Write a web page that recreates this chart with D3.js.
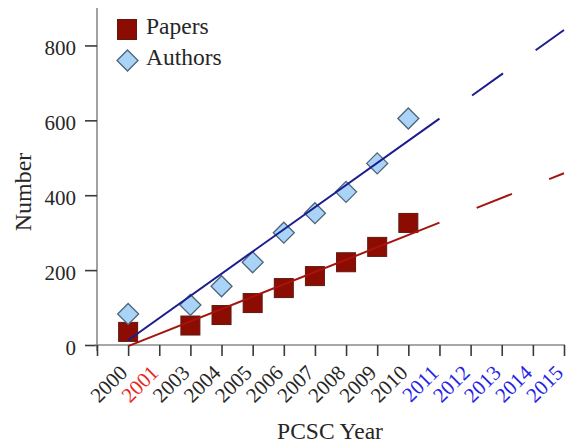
<!DOCTYPE html>
<html>
<head>
<meta charset="utf-8">
<script src="https://cdn.jsdelivr.net/npm/d3@7"></script>
<style>
  html, body { margin: 0; padding: 0; background: #fff; }
  svg { display: block; }
  text { font-family: "Liberation Serif", "Times New Roman", serif; }
</style>
</head>
<body>
<svg id="chart" width="569" height="444"></svg>
<script>
// Conference years on the x axis (no meeting in 2002)
const years = ["2000", "2001", "2003", "2004", "2005", "2006", "2007", "2008",
               "2009", "2010", "2011", "2012", "2013", "2014", "2015"];
const noMeetingYears = ["2001"];
const forecastYears = ["2011", "2012", "2013", "2014", "2015"];

// Observed counts
const observedYears = ["2000", "2003", "2004", "2005", "2006", "2007", "2008", "2009", "2010"];
const papers  = [35, 52, 80, 112, 152, 184, 221, 262, 326];
const authors = [83, 107, 157, 221, 300, 352, 409, 485, 605];

// Trend line: fitted through the observed years, solid up to 2011, dashed beyond
const trendStart = "2000";
const trendSolidEnd = "2011";
const trendEnd = "2015";

const yTicks = [0, 200, 400, 600, 800];

const svg = d3.select("#chart");

// First slot is the bare origin tick, then one slot per year
const x = d3.scalePoint().domain([""].concat(years)).range([97, 564]).padding(0);
const y = d3.scaleLinear().domain([0, 900]).range([345, 8]);
const slot = d => x.domain().indexOf(d);
const xi = d3.scaleLinear().domain([0, x.domain().length - 1]).range(x.range());

const labelColor = d => noMeetingYears.includes(d) ? "#e8281e"
                      : forecastYears.includes(d) ? "#2424e6" : "#262626";

// Axes
const yAxis = svg.append("g")
  .attr("transform", "translate(97,0)")
  .call(d3.axisLeft(y).tickValues(yTicks).tickSize(12).tickSizeOuter(0).tickPadding(9));
yAxis.select(".domain").attr("stroke", "#8a8a8a").attr("stroke-width", 1.6)
  .attr("d", `M0,${y(0) + 6}V${y.range()[1]}`);
yAxis.selectAll(".tick line").attr("stroke", "#3a3a3a").attr("stroke-width", 1.6);
yAxis.selectAll(".tick text").attr("font-size", 21).attr("fill", "#262626")
  .attr("dy", "0.45em")
  .attr("font-family", "Liberation Serif, serif");

const xAxis = svg.append("g")
  .attr("transform", "translate(0,345)")
  .call(d3.axisBottom(x).tickSize(11).tickSizeOuter(0));
xAxis.select(".domain").attr("stroke", "#8a8a8a").attr("stroke-width", 1.6)
  .attr("d", `M95,0H${x.range()[1] + 1}`);
xAxis.selectAll(".tick line").attr("stroke", "#3a3a3a").attr("stroke-width", 1.6);
xAxis.selectAll(".tick text")
  .attr("font-size", 21)
  .attr("font-family", "Liberation Serif, serif")
  .attr("fill", labelColor)
  .attr("text-anchor", "end")
  .attr("dy", null)
  .attr("y", null)
  .attr("transform", "translate(0,29) rotate(-45)");

// Axis titles
svg.append("text")
  .attr("transform", "translate(31,192) rotate(-90)")
  .attr("text-anchor", "middle")
  .attr("font-size", 24)
  .attr("fill", "#262626")
  .text("Number");

svg.append("text")
  .attr("x", 330).attr("y", 439)
  .attr("text-anchor", "middle")
  .attr("font-size", 23.5)
  .attr("fill", "#262626")
  .text("PCSC Year");

// Least-squares fit over slot positions
function fit(values) {
  const xs = observedYears.map(slot);
  const mx = d3.mean(xs), my = d3.mean(values);
  const sxy = d3.sum(xs, (v, i) => (v - mx) * (values[i] - my));
  const sxx = d3.sum(xs, v => (v - mx) * (v - mx));
  const b = sxy / sxx;
  return s => my + b * (s - mx);
}

function drawTrend(values, color) {
  const f = fit(values);
  const seg = (a, b) => [[xi(slot(a)), y(f(slot(a)))], [xi(slot(b)), y(f(slot(b)))]];
  const line = d3.line();
  svg.append("path")
    .attr("d", line(seg(trendStart, trendSolidEnd)))
    .attr("fill", "none").attr("stroke", color).attr("stroke-width", 2);
  svg.append("path")
    .attr("d", line(seg(trendSolidEnd, trendEnd)))
    .attr("fill", "none").attr("stroke", color).attr("stroke-width", 2)
    .attr("stroke-dasharray", "38,40").attr("stroke-dashoffset", 38);
}

// Markers
const sq = 19;
svg.append("g").selectAll("rect")
  .data(papers)
  .join("rect")
  .attr("x", (d, i) => x(observedYears[i]) - sq / 2)
  .attr("y", d => y(d) - sq / 2)
  .attr("width", sq).attr("height", sq)
  .attr("fill", "#8c0c02").attr("stroke", "#5c1a12").attr("stroke-width", 1);

const dm = 10.5;
const diamond = (cx, cy) => `M${cx},${cy - dm}L${cx + dm},${cy}L${cx},${cy + dm}L${cx - dm},${cy}Z`;
svg.append("g").selectAll("path")
  .data(authors)
  .join("path")
  .attr("d", (d, i) => diamond(x(observedYears[i]), y(d)))
  .attr("fill", "#a9d4f8").attr("stroke", "#4e6478").attr("stroke-width", 1.3);

drawTrend(authors, "#1c1c8e");
drawTrend(papers, "#a5140e");

// Legend
const legend = svg.append("g");
legend.append("rect")
  .attr("x", 117.5).attr("y", 19.5).attr("width", 19).attr("height", 20)
  .attr("fill", "#8c0c02").attr("stroke", "#5c1a12").attr("stroke-width", 1);
legend.append("path")
  .attr("d", diamond(127.5, 60.5))
  .attr("fill", "#a9d4f8").attr("stroke", "#4e6478").attr("stroke-width", 1.3);
legend.append("text").attr("x", 146).attr("y", 34).attr("font-size", 23.5).attr("fill", "#262626").text("Papers");
legend.append("text").attr("x", 146).attr("y", 65).attr("font-size", 23.5).attr("fill", "#262626").text("Authors");
</script>
</body>
</html>
